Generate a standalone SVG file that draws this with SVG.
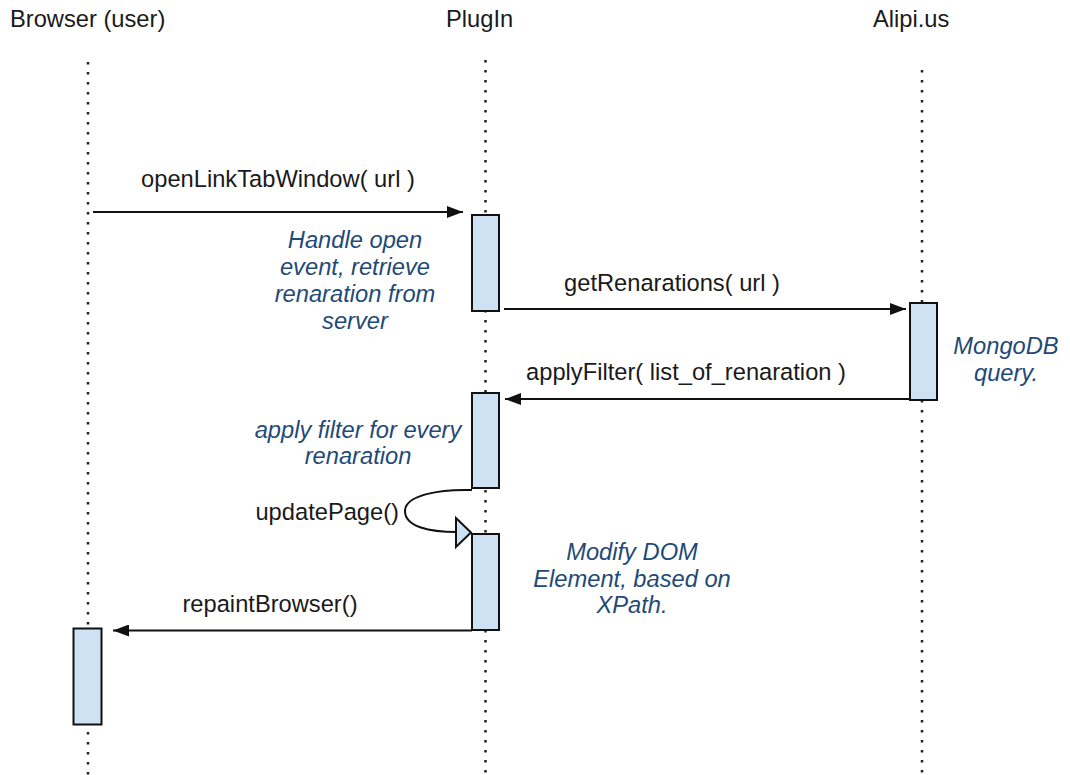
<svg xmlns="http://www.w3.org/2000/svg" width="1070" height="775" viewBox="0 0 1070 775">
<style>
text{font-family:"Liberation Sans",Arial,sans-serif;font-size:23.7px;fill:#1a1a1a}
.note{font-style:italic;fill:#1f4a78;text-anchor:middle}
.life{stroke:#222;stroke-width:2.5;stroke-dasharray:2.5 7.5;fill:none}
.act{fill:#cfe2f3;stroke:#111;stroke-width:2}
.msg{stroke:#111;stroke-width:2;fill:none}
</style>
<defs>
<marker id="ah" viewBox="0 0 16 12" refX="16" refY="6" markerWidth="16" markerHeight="12" markerUnits="userSpaceOnUse" orient="auto">
<path d="M0,0 L16,6 L0,12 z" fill="#111"/>
</marker>
</defs>
<rect width="1070" height="775" fill="#fff"/>
<g id="browser">
<text x="10" y="27">Browser (user)</text>
<line class="life" x1="88" y1="62" x2="88" y2="775"/>
<rect class="act" x="73.5" y="628.5" width="28" height="96"/>
</g>
<g id="plugin">
<text x="446" y="27">PlugIn</text>
<line class="life" x1="485.5" y1="60" x2="485.5" y2="775"/>
<rect class="act" x="472" y="215" width="27" height="96"/>
<rect class="act" x="472" y="393" width="27" height="95"/>
<rect class="act" x="472" y="534" width="27" height="96"/>
</g>
<g id="alipi">
<text x="873" y="27">Alipi.us</text>
<line class="life" x1="922" y1="70" x2="922" y2="775"/>
<rect class="act" x="910" y="303" width="27" height="97"/>
</g>
<g id="notes">
<text class="note"><tspan x="355" y="248">Handle open</tspan><tspan x="355" y="275">event, retrieve</tspan><tspan x="355" y="302">renaration from</tspan><tspan x="355" y="329">server</tspan></text>
<text class="note"><tspan x="1006" y="354">MongoDB</tspan><tspan x="1006" y="381">query.</tspan></text>
<text class="note"><tspan x="358" y="438">apply filter for every</tspan><tspan x="358" y="464">renaration</tspan></text>
<text class="note"><tspan x="632" y="560">Modify DOM</tspan><tspan x="632" y="587">Element, based on</tspan><tspan x="632" y="613">XPath.</tspan></text>
</g>
<g id="connectors">
<line class="msg" x1="93" y1="212" x2="463" y2="212" marker-end="url(#ah)"/>
<text x="278" y="187" text-anchor="middle">openLinkTabWindow( url )</text>
<line class="msg" x1="504" y1="309" x2="906" y2="309" marker-end="url(#ah)"/>
<text x="672" y="291" text-anchor="middle">getRenarations( url )</text>
<line class="msg" x1="910" y1="399" x2="505" y2="399" marker-end="url(#ah)"/>
<text x="686" y="380" text-anchor="middle">applyFilter( list_of_renaration )</text>
<path class="msg" d="M472,490 C440,489 405,495 405,511 C405,527 430,532 457,532"/>
<path d="M456,518 L471,532.5 L456,547 z" fill="#cfe2f3" stroke="#111" stroke-width="2" stroke-linejoin="miter"/>
<text x="399" y="520" text-anchor="end">updatePage()</text>
<line class="msg" x1="472" y1="630.5" x2="113" y2="630.5" marker-end="url(#ah)"/>
<text x="270" y="612" text-anchor="middle">repaintBrowser()</text>
</g>
</svg>
